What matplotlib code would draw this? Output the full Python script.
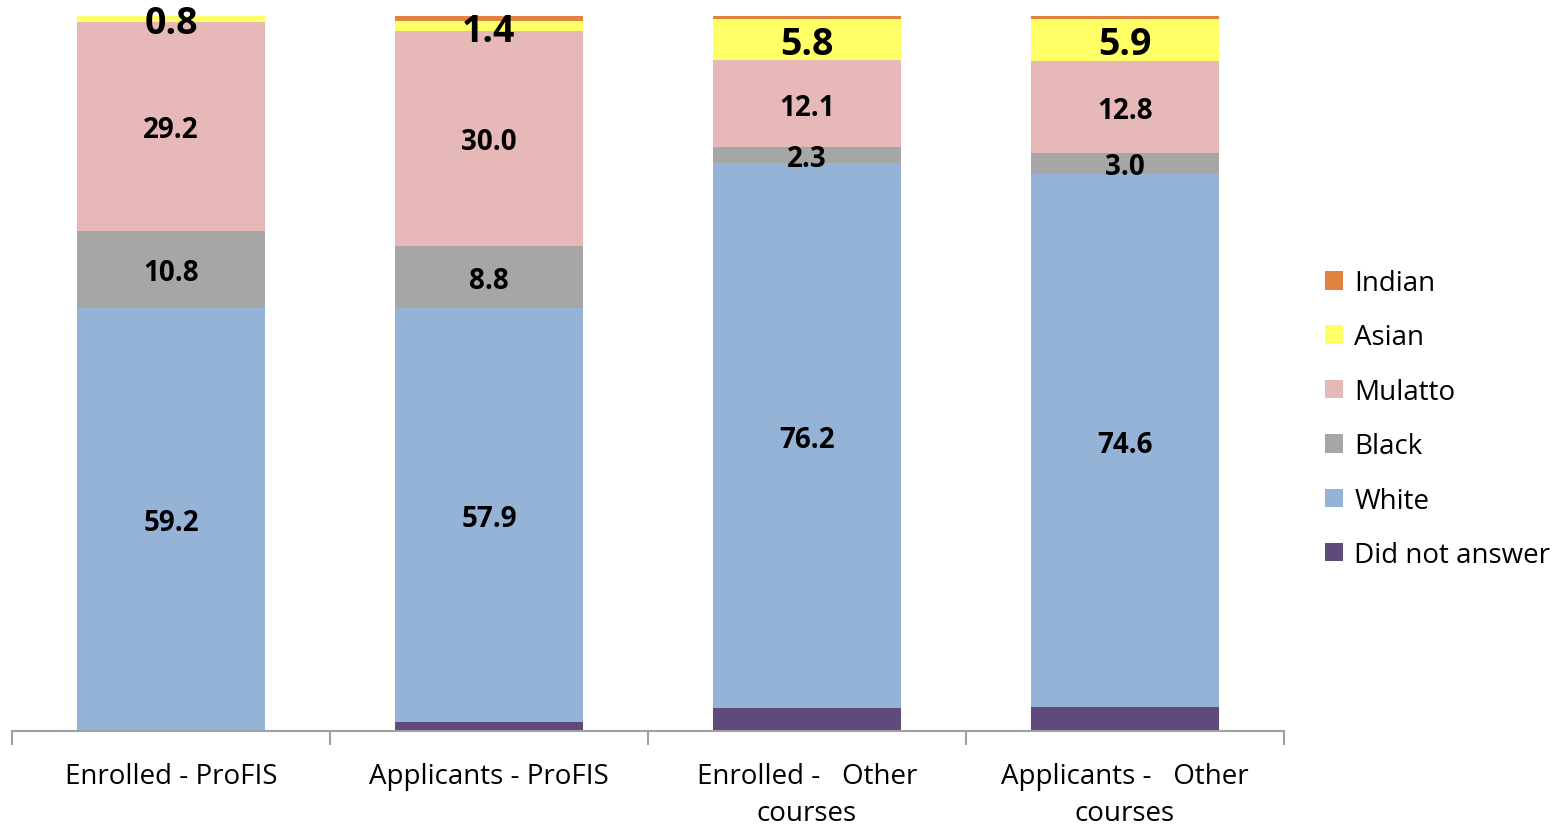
import matplotlib
matplotlib.use("Agg")
import matplotlib.pyplot as plt
import numpy as np

categories = ["Enrolled - ProFIS", "Applicants - ProFIS",
              "Enrolled -   Other\ncourses", "Applicants -   Other\ncourses"]
series_names = ["Did not answer", "White", "Black", "Mulatto", "Asian", "Indian"]
did_not_answer = [0.0, 1.2, 3.2, 3.3]
white = [59.2, 57.9, 76.2, 74.6]
black = [10.8, 8.8, 2.3, 3.0]
mulatto = [29.2, 30.0, 12.1, 12.8]
asian = [0.8, 1.4, 5.8, 5.9]
indian = [0.0, 0.7, 0.4, 0.4]

colors = ["#604A7B", "#95B3D7", "#A6A6A6", "#E6B8B7", "#FFFF66", "#E0833F"]
labelled = {"White", "Black", "Mulatto", "Asian"}

plt.rcParams["font.family"] = ["Open Sans", "DejaVu Sans"]

fig = plt.figure(figsize=(15.65, 8.28), dpi=100)
ax = fig.add_axes([12 / 1565, 96 / 828, 1272 / 1565, 715 / 828])

x = np.arange(len(categories))
data = [did_not_answer, white, black, mulatto, asian, indian]
bottom = np.zeros(len(categories))
handles = []
for name, vals, col in zip(series_names, data, colors):
    vals = np.array(vals)
    bars = ax.bar(x, vals, width=0.59, bottom=bottom, color=col,
                  edgecolor="none", label=name)
    handles.append(bars)
    if name in labelled:
        size = 27 if name == "Asian" else 20
        for xi, b, v in zip(x, bottom, vals):
            ax.text(xi, b + v / 2, f"{v:.1f}", ha="center",
                    va="center_baseline", fontsize=size, fontweight="bold",
                    color="black")
    bottom += vals

ax.set_xlim(-0.5, len(categories) - 0.5)
ax.set_ylim(0, 100)
ax.set_yticks([])
for s in ["left", "right", "top"]:
    ax.spines[s].set_visible(False)
ax.spines["bottom"].set_color("#A0A0A0")
ax.spines["bottom"].set_linewidth(1.5)

# category labels between boundary ticks
ax.set_xticks(x)
ax.set_xticklabels(categories, fontsize=20, linespacing=1.45)
ax.tick_params(axis="x", length=0, pad=22)
ax.set_xticks(np.arange(-0.5, len(categories)), minor=True)
ax.tick_params(axis="x", which="minor", length=10, width=1.5, color="#A0A0A0")

fig.legend(handles[::-1], series_names[::-1], loc="center left",
           bbox_to_anchor=(1314 / 1565, 1 - 420 / 828), frameon=False,
           fontsize=20, handlelength=0.65, handleheight=0.65,
           handletextpad=0.4, labelspacing=0.95, borderaxespad=0)

fig.savefig("out.png", dpi=100)
